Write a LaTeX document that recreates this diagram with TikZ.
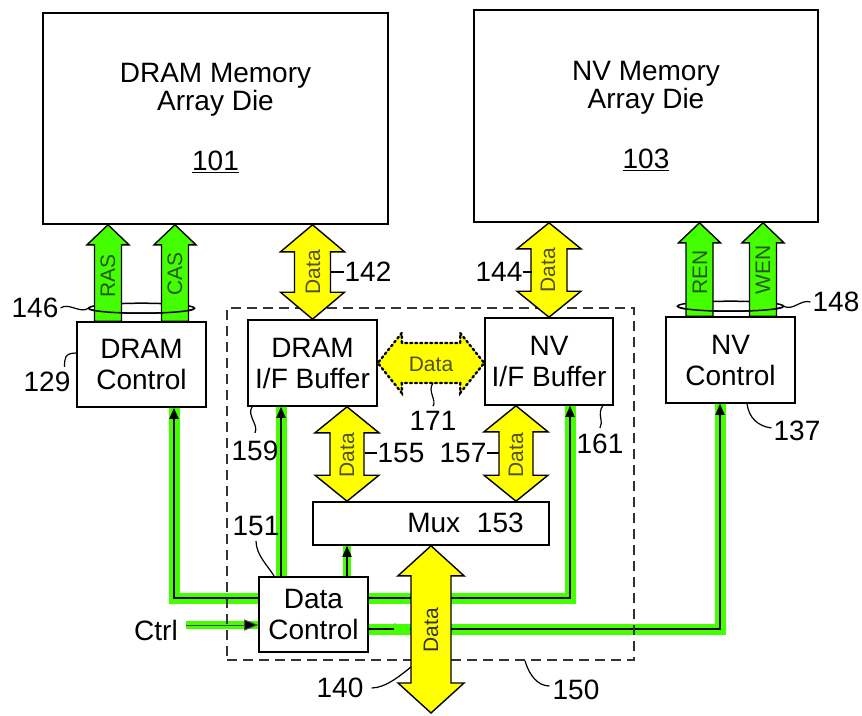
\documentclass[tikz,border=0pt]{standalone}
\usepackage{fontspec}
\setmainfont{Liberation Sans}
\usetikzlibrary{arrows.meta,calc}
\definecolor{grn}{RGB}{68,255,0}
\definecolor{yel}{RGB}{255,255,0}
\definecolor{ytxt}{RGB}{80,80,40}
\definecolor{gtxt}{RGB}{40,85,30}
\pgfdeclarelayer{bg}
\pgfdeclarelayer{paper}
\pgfsetlayers{paper,bg,main}
% vertical double block arrow: style, top, bottom, half shaft, half head, head length
\newcommand\VDbl[6]{%
 \draw[#1] let \p1=#2, \p2=#3 in
 (\x1-#4pt,\y1-#6pt) -- (\x1-#5pt,\y1-#6pt) -- (\x1,\y1) -- (\x1+#5pt,\y1-#6pt) -- (\x1+#4pt,\y1-#6pt)
 -- (\x1+#4pt,\y2+#6pt) -- (\x1+#5pt,\y2+#6pt) -- (\x1,\y2) -- (\x1-#5pt,\y2+#6pt) -- (\x1-#4pt,\y2+#6pt) -- cycle;}
% vertical up block arrow
\newcommand\VUp[6]{%
 \draw[#1] let \p1=#2, \p2=#3 in
 (\x1-#4pt,\y2) -- (\x1-#4pt,\y1-#6pt) -- (\x1-#5pt,\y1-#6pt) -- (\x1,\y1) -- (\x1+#5pt,\y1-#6pt) -- (\x1+#4pt,\y1-#6pt) -- (\x1+#4pt,\y2) -- cycle;}
% horizontal double block arrow
\newcommand\HDbl[6]{%
 \draw[#1] let \p1=#2, \p2=#3 in
 (\x1+#6pt,\y1+#4pt) -- (\x1+#6pt,\y1+#5pt) -- (\x1,\y1) -- (\x1+#6pt,\y1-#5pt) -- (\x1+#6pt,\y1-#4pt)
 -- (\x2-#6pt,\y1-#4pt) -- (\x2-#6pt,\y1-#5pt) -- (\x2,\y1) -- (\x2-#6pt,\y1+#5pt) -- (\x2-#6pt,\y1+#4pt) -- cycle;}
\begin{document}
\begin{tikzpicture}[x=1pt,y=-1pt,
  box/.style={draw, line width=1.6pt, fill=white, inner sep=2pt, align=center, font=\fontsize{28}{31}\selectfont},
  bigbox/.style={box, font=\fontsize{28}{28}\selectfont},
  lbl/.style={inner sep=0pt, font=\fontsize{28}{30}\selectfont},
  albl/.style={inner sep=0pt, font=\fontsize{21}{22}\selectfont, rotate=90},
  yarrow/.style={fill=yel, draw=black, line width=1.4pt},
  garrow/.style={fill=grn, draw=black, line width=1.4pt},
  darrow/.style={fill=yel, draw=black, line width=2.4pt, dash pattern=on 2pt off 3pt, line cap=round},
  gband/.style={draw=grn, line width=11pt},
  bline/.style={draw=black, line width=1.8pt},
  tip/.style={-{Triangle[length=11pt,width=9pt]}},
  ring/.style={draw=black, line width=1.5pt},
  lead/.style={draw=black, line width=1.2pt},
  dashbox/.style={draw=black!80, line width=1.5pt, dash pattern=on 10pt off 6pt}
]
\begin{pgfonlayer}{paper}
\fill[white] (0,0) rectangle (862,715);
\end{pgfonlayer}
\useasboundingbox (0,0) rectangle (862,715);

% group box
\node[dashbox, minimum width=407pt, minimum height=352pt, inner sep=0pt] (grp) at (430.5,484) {};

% boxes
\node[bigbox, minimum width=345pt, minimum height=211pt] (dram) at (215.5,118.5) {DRAM Memory\\Array Die\\[32pt]\underline{101}};
\node[bigbox, minimum width=344pt, minimum height=212pt] (nv) at (646,116) {NV Memory\\Array Die\\[32pt]\underline{103}};
\node[box, minimum width=129pt, minimum height=85pt] (dramctl) at (141.5,364.5) {DRAM\\Control};
\node[box, minimum width=129pt, minimum height=86pt] (dramif) at (312.5,363) {DRAM\\I/F Buffer};
\node[box, minimum width=128pt, minimum height=87pt] (nvif) at (549,361.5) {NV\\I/F Buffer};
\node[box, minimum width=129pt, minimum height=86pt] (nvctl) at (730.5,360) {NV\\Control};
\node[box, minimum width=236pt, minimum height=43pt] (mux) at (431,523.5) {};
\node[lbl] (muxt) at (465.5,523) {Mux\hspace{0.6em}153};
\node[box, minimum width=109pt, minimum height=75pt] (datactl) at (313.5,614.5) {Data\\Control};
\node[lbl] (ctrl) at (156,630) {Ctrl};

% control lines (background)
\begin{pgfonlayer}{bg}
 \coordinate (c1s) at ([yshift=16.5pt]datactl.west);
 \coordinate (c1e) at ([xshift=32.5pt]dramctl.south);
 \draw[gband] (c1s) -| (c1e);
 \draw[bline,tip] (c1s) -| (c1e);
 \coordinate (c2s) at ([xshift=-32.5pt]datactl.north);
 \draw[gband] (c2s) -- (c2s |- dramif.south);
 \draw[bline,tip] (c2s) -- (c2s |- dramif.south);
 \coordinate (c3s) at ([xshift=33.5pt]datactl.north);
 \draw[gband, line width=8pt] (c3s) -- (c3s |- mux.south);
 \draw[bline,tip] (c3s) -- (c3s |- mux.south);
 \coordinate (c4s) at ([yshift=16.5pt]datactl.east);
 \coordinate (c4e) at ([xshift=21pt]nvif.south);
 \draw[gband] (c4s) -| (c4e);
 \draw[bline,tip] (c4s) -| (c4e);
 \coordinate (c5s) at ([yshift=-14.5pt]datactl.east);
 \coordinate (c5e) at ([xshift=-10.5pt]nvctl.south);
 \draw[gband] (c5s) -| (c5e);
 \draw[bline,tip] (c5s) -| (c5e);
 \fill[grn] ([xshift=25pt,yshift=6pt]c5s) -- ([xshift=43pt]c5s) -- ([xshift=25pt,yshift=-6pt]c5s) -- cycle;
 \coordinate (ctrlE) at ([yshift=-10.5pt]datactl.west);
 \coordinate (ctrlS0) at ([xshift=8pt]ctrl.east);
 \draw[gband, line width=8pt] (ctrlS0 |- ctrlE) -- (ctrlE);
 \draw[draw=black!70, line width=1pt, -{Triangle[length=14pt,width=11pt,fill=black]}] (ctrlS0 |- ctrlE) -- (ctrlE);
\end{pgfonlayer}

% rings (back)
\coordinate (r146) at ([yshift=13pt]dramctl.north);
\coordinate (r148) at ([yshift=10pt]nvctl.north);
\draw[ring] (r146) ellipse [x radius=53pt, y radius=5pt];
\draw[ring] (r148) ellipse [x radius=53pt, y radius=5pt];

% green block arrows
\coordinate (rasB) at ([xshift=-33.5pt]dramctl.north);
\coordinate (casB) at ([xshift=33.5pt]dramctl.north);
\coordinate (renB) at ([xshift=-31pt]nvctl.north);
\coordinate (wenB) at ([xshift=32.5pt]nvctl.north);
\VUp{garrow}{(rasB |- dram.south)}{(rasB)}{13.5}{21}{20}
\VUp{garrow}{(casB |- dram.south)}{(casB)}{13.5}{21}{20}
\VUp{garrow}{(renB |- nv.south)}{(renB)}{13.5}{21}{20}
\VUp{garrow}{(wenB |- nv.south)}{(wenB)}{13.5}{21}{20}

% rings (front)
\draw[ring] ([xshift=-53pt]r146) arc[start angle=180, end angle=360, x radius=53pt, y radius=5pt];
\draw[ring] ([xshift=-53pt]r148) arc[start angle=180, end angle=360, x radius=53pt, y radius=5pt];

% yellow block arrows
\VDbl{yarrow}{(dramif.north |- dram.south)}{(dramif.north)}{18}{32}{27}
\VDbl{yarrow}{(nvif.north |- nv.south)}{(nvif.north)}{18}{32}{26}
\coordinate (d155) at ([xshift=34.5pt]dramif.south);
\coordinate (d157) at ([xshift=-33pt]nvif.south);
\VDbl{yarrow}{(d155)}{(d155 |- mux.north)}{17}{32}{26}
\VDbl{yarrow}{(d157)}{(d157 |- mux.north)}{17}{32}{26}
\coordinate (d140) at (431,713);
\VDbl{yarrow}{(mux.south)}{(d140)}{20}{33}{30}
\HDbl{darrow}{(dramif.east)}{(nvif.west |- dramif.east)}{20}{30}{24}

% texts in arrows
\node[albl, text=gtxt] (tras) at (108,276) {RAS};
\node[albl, text=gtxt] (tcas) at (175,274) {CAS};
\node[albl, text=gtxt] (tren) at (700,272) {REN};
\node[albl, text=gtxt] (twen) at (763,270) {WEN};
\node[albl, text=ytxt] (t142) at (313,272) {Data};
\node[albl, text=ytxt] (t144) at (548,270) {Data};
\node[albl, text=ytxt] (t155) at (347,455) {Data};
\node[albl, text=ytxt] (t157) at (516,455) {Data};
\node[albl, text=black!80] (t140) at (431,630) {Data};
\node[inner sep=0pt, font=\fontsize{21}{22}\selectfont, text=ytxt] (t171) at (431,364) {Data};

% reference labels
\node[lbl] (l146) at (35,308) {146};
\node[lbl] (l129) at (47,382) {129};
\node[lbl] (l142) at (368,272) {142};
\node[lbl] (l144) at (499,272) {144};
\node[lbl] (l148) at (836,302) {148};
\node[lbl] (l137) at (797,431) {137};
\node[lbl] (l159) at (255,451) {159};
\node[lbl] (l161) at (600,444) {161};
\node[lbl] (l171) at (433,421) {171};
\node[lbl] (l155) at (401,453) {155};
\node[lbl] (l157) at (463,453) {157};
\node[lbl] (l151) at (256,526) {151};
\node[lbl] (l140) at (340,688) {140};
\node[lbl] (l150) at (576,690) {150};

% leader lines
\draw[lead] ([xshift=2pt]l146.east) .. controls +(8,-6) and +(-8,6) .. ([xshift=-53pt]r146);
\draw[lead] ([yshift=11.5pt]dramctl.west) .. controls +(-12,0) and +(0,-8) .. ([xshift=-6pt,yshift=5pt]l129.north east);
\draw[lead] (l142.west) -- ++(-13,0);
\draw[lead] (l144.east) -- ++(9,0);
\draw[lead] ([xshift=53pt]r148) .. controls +(10,5) and +(-10,-3) .. ([xshift=-2pt]l148.west);
\draw[lead] ([xshift=16.5pt]nvctl.south) .. controls +(2,14) and +(-14,-2) .. ([xshift=-2pt,yshift=3pt]l137.west);
\draw[lead] ([xshift=5pt]dramif.south west) .. controls +(-6,8) and +(4,-8) .. ([yshift=8pt]l159.north);
\draw[lead] ([xshift=-11pt]nvif.south east) .. controls +(-6,8) and +(4,-6) .. ([yshift=6pt]l161.north);
\coordinate (a171) at (433,383);
\draw[lead] (a171) .. controls +(-6,8) and +(4,-6) .. ([yshift=5pt]l171.north);
\draw[lead] (l155.west) -- ++(-12,0);
\draw[lead] (l157.east) -- ++(12,0);
\draw[lead] ([yshift=-5pt]l151.south) .. controls +(0,14) and +(-6,-10) .. ([xshift=16pt]datactl.north west);
\coordinate (a140) at (411,667);
\draw[lead] ([xshift=8pt]l140.east) .. controls +(14,0) and +(-10,8) .. (a140);
\coordinate (a150) at ([xshift=94.5pt]grp.south);
\draw[lead] (a150) .. controls +(4,14) and +(-12,0) .. ([xshift=-3pt,yshift=4pt]l150.west);
\end{tikzpicture}
\end{document}
